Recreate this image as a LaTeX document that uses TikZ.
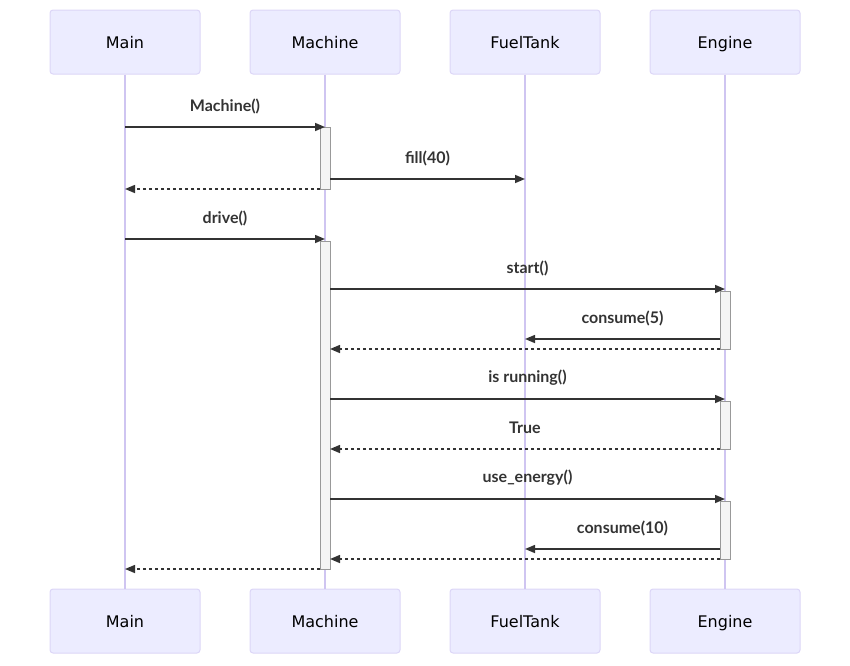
\documentclass[tikz,border=0pt]{standalone}
\usepackage{fontspec}
\setmainfont{DejaVu Sans}
\newfontfamily\msgfont{Lato}
\usetikzlibrary{arrows.meta}
\definecolor{actorfill}{HTML}{ECECFF}
\definecolor{actorline}{HTML}{DCD6F7}
\definecolor{lifecol}{HTML}{CFC5F1}
\definecolor{actfill}{HTML}{F4F4F4}
\definecolor{actline}{HTML}{999999}
\definecolor{msgcol}{HTML}{333333}
\begin{document}
\begin{tikzpicture}[x=1pt,y=-1pt,
	actor/.style={draw=actorline, fill=actorfill, line width=1pt, rounded corners=3pt,
		minimum width=150pt, minimum height=64pt, inner sep=0pt,
		text height=15pt, text depth=3pt,
		font=\fontsize{16}{19}\selectfont, text=black},
	lifeline/.style={draw=lifecol, line width=1.3pt},
	activation/.style={draw=actline, fill=actfill, line width=1pt},
	msg/.style={draw=msgcol, line width=1.5pt, -{Triangle[length=10pt,width=8pt]}},
	reply/.style={msg, dash pattern=on 3pt off 3pt},
	msglabel/.style={font=\msgfont\bfseries\fontsize{16}{19}\selectfont, text=msgcol,
		midway, yshift=21pt, inner sep=0pt}]

\useasboundingbox (0,0) rectangle (850,665);

% actors, top and bottom
\node[actor] (mainT) at (125,42) {Main};
\node[actor] (machineT) at (325,42) {Machine};
\node[actor] (tankT) at (525,42) {FuelTank};
\node[actor] (engineT) at (725,42) {Engine};
\node[actor] (mainB) at (125,621) {Main};
\node[actor] (machineB) at (325,621) {Machine};
\node[actor] (tankB) at (525,621) {FuelTank};
\node[actor] (engineB) at (725,621) {Engine};

% lifelines
\draw[lifeline] (mainT) -- (mainB);
\draw[lifeline] (machineT) -- (machineB);
\draw[lifeline] (tankT) -- (tankB);
\draw[lifeline] (engineT) -- (engineB);

% activations
\filldraw[activation] (320,127) rectangle (330,189);
\filldraw[activation] (320,241) rectangle (330,569);
\filldraw[activation] (720,291) rectangle (730,349);
\filldraw[activation] (720,401) rectangle (730,449);
\filldraw[activation] (720,501) rectangle (730,559);

% messages
\draw[msg] (mainT |- 0,127) -- (machineT |- 0,127) node[msglabel] {Machine()};
\draw[msg] ([xshift=5pt]machineT |- 0,179) -- (tankT |- 0,179) node[msglabel] {fill(40)};
\draw[reply] ([xshift=-5pt]machineT |- 0,189) -- (mainT |- 0,189);
\draw[msg] (mainT |- 0,239) -- (machineT |- 0,239) node[msglabel] {drive()};
\draw[msg] ([xshift=5pt]machineT |- 0,289) -- (engineT |- 0,289) node[msglabel] {start()};
\draw[msg] ([xshift=-5pt]engineT |- 0,339) -- (tankT |- 0,339) node[msglabel] {consume(5)};
\draw[reply] ([xshift=-5pt]engineT |- 0,349) -- ([xshift=5pt]machineT |- 0,349);
\draw[msg] ([xshift=5pt]machineT |- 0,399) -- (engineT |- 0,399) node[msglabel] {is running()};
\draw[reply] ([xshift=-5pt]engineT |- 0,449) -- ([xshift=5pt]machineT |- 0,449) node[msglabel] {True};
\draw[msg] ([xshift=5pt]machineT |- 0,499) -- (engineT |- 0,499) node[msglabel] {use\_energy()};
\draw[msg] ([xshift=-5pt]engineT |- 0,549) -- (tankT |- 0,549) node[msglabel] {consume(10)};
\draw[reply] ([xshift=-5pt]engineT |- 0,559) -- ([xshift=5pt]machineT |- 0,559);
\draw[reply] ([xshift=-5pt]machineT |- 0,569) -- (mainT |- 0,569);

\end{tikzpicture}
\end{document}
